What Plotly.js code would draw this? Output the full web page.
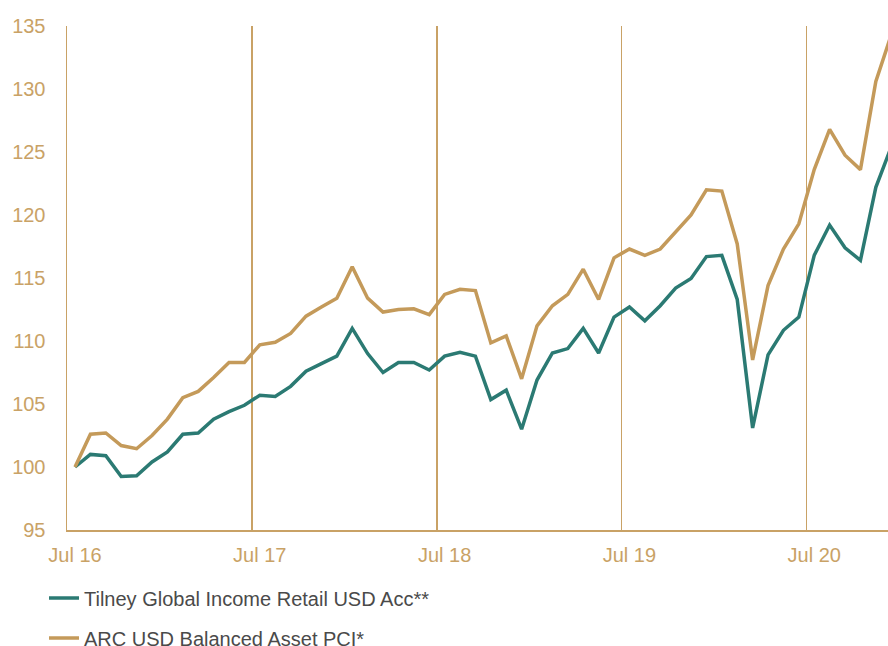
<!DOCTYPE html>
<html>
<head>
<meta charset="utf-8">
<script src="https://cdn.plot.ly/plotly-3.0.1.min.js"></script>
<style>html,body{margin:0;padding:0;background:#fff;}#chart{width:888px;height:646px;}</style>
</head>
<body>
<div id="chart"></div>
<script>
// Monthly index, Jul 2016 = 100
const months = ["Jul 16","Aug 16","Sep 16","Oct 16","Nov 16","Dec 16","Jan 17","Feb 17","Mar 17","Apr 17","May 17","Jun 17",
"Jul 17","Aug 17","Sep 17","Oct 17","Nov 17","Dec 17","Jan 18","Feb 18","Mar 18","Apr 18","May 18","Jun 18",
"Jul 18","Aug 18","Sep 18","Oct 18","Nov 18","Dec 18","Jan 19","Feb 19","Mar 19","Apr 19","May 19","Jun 19",
"Jul 19","Aug 19","Sep 19","Oct 19","Nov 19","Dec 19","Jan 20","Feb 20","Mar 20","Apr 20","May 20","Jun 20",
"Jul 20","Aug 20","Sep 20","Oct 20","Nov 20","Dec 20"];

const tilney = [100.0,101.0,100.9,99.25,99.3,100.4,101.2,102.6,102.7,103.8,104.4,104.9,
105.7,105.6,106.4,107.6,108.2,108.8,111.0,109.0,107.5,108.3,108.3,107.7,
108.8,109.1,108.8,105.35,106.1,103.0,106.9,109.05,109.4,111.0,109.05,111.9,
112.7,111.6,112.8,114.2,114.96,116.7,116.8,113.3,103.1,108.9,110.85,111.9,
116.8,119.2,117.4,116.4,122.2,125.4];

const arc = [100.0,102.6,102.7,101.7,101.45,102.5,103.8,105.5,106.0,107.1,108.3,108.3,
109.7,109.9,110.6,111.97,112.7,113.4,115.9,113.4,112.3,112.5,112.55,112.1,
113.7,114.1,114.0,109.85,110.4,107.0,111.2,112.8,113.7,115.7,113.3,116.6,
117.3,116.8,117.3,118.6,120.0,122.0,121.9,117.7,108.5,114.4,117.3,119.3,
123.6,126.8,124.75,123.6,130.6,134.3];

const tickLabels = ["Jul 16","Jul 17","Jul 18","Jul 19","Jul 20"];
const tickIdx = tickLabels.map(t => months.indexOf(t));
const yearBounds = tickIdx.slice(1).map(i => i - 0.5);

const idx = months.map((m, i) => i);
const GOLD = "#C49A5A";
const TEAL = "#2B7A73";
const AXIS = "#C9A266";
const FONT = "Liberation Sans, Arial, sans-serif";

const traces = [
  {x: [0], y: [100], xaxis: "x2", yaxis: "y", mode: "markers",
   marker: {opacity: 0}, showlegend: false, hoverinfo: "skip"},
  {x: idx, y: tilney, type: "scatter", mode: "lines", name: "Tilney Global Income Retail USD Acc**",
   line: {color: TEAL, width: 3.5}, legendgroup: "a", hoverinfo: "skip"},
  {x: idx, y: arc, type: "scatter", mode: "lines", name: "ARC USD Balanced Asset PCI*",
   line: {color: GOLD, width: 3.5}, legendgroup: "b", hoverinfo: "skip"}
];

const xr = [-0.52, 52.79];
const layout = {
  width: 888, height: 646,
  margin: {l: 67, r: 0, t: 26, b: 116, pad: 0, autoexpand: false},
  paper_bgcolor: "#fff", plot_bgcolor: "#fff",
  font: {family: FONT, size: 20, color: AXIS},
  showlegend: true,
  legend: {x: -0.028, xanchor: "left", y: -0.096, yanchor: "top", orientation: "v",
           font: {family: FONT, size: 20, color: "#4A4A4A"}, tracegroupgap: 11,
           bgcolor: "rgba(0,0,0,0)"},
  xaxis: {range: xr, tickmode: "array", tickvals: tickIdx, ticktext: tickLabels,
          showgrid: false, zeroline: false, showline: true, linecolor: AXIS, linewidth: 1.5,
          ticks: "", ticklabelstandoff: 6, tickfont: {family: FONT, size: 20, color: AXIS},
          fixedrange: true},
  xaxis2: {range: xr, overlaying: "x", matches: "x", tickmode: "array", tickvals: yearBounds,
           showgrid: true, gridcolor: AXIS, gridwidth: 1.5, showticklabels: false,
           zeroline: false, showline: false, ticks: ""},
  yaxis: {range: [95, 135], tickmode: "linear", tick0: 95, dtick: 5,
          showgrid: false, zeroline: false, showline: true, linecolor: AXIS, linewidth: 1.5,
          ticks: "", ticklabelstandoff: 16, tickfont: {family: FONT, size: 20, color: AXIS},
          fixedrange: true}
};

Plotly.newPlot("chart", traces, layout, {displayModeBar: false, staticPlot: true});
</script>
</body>
</html>
